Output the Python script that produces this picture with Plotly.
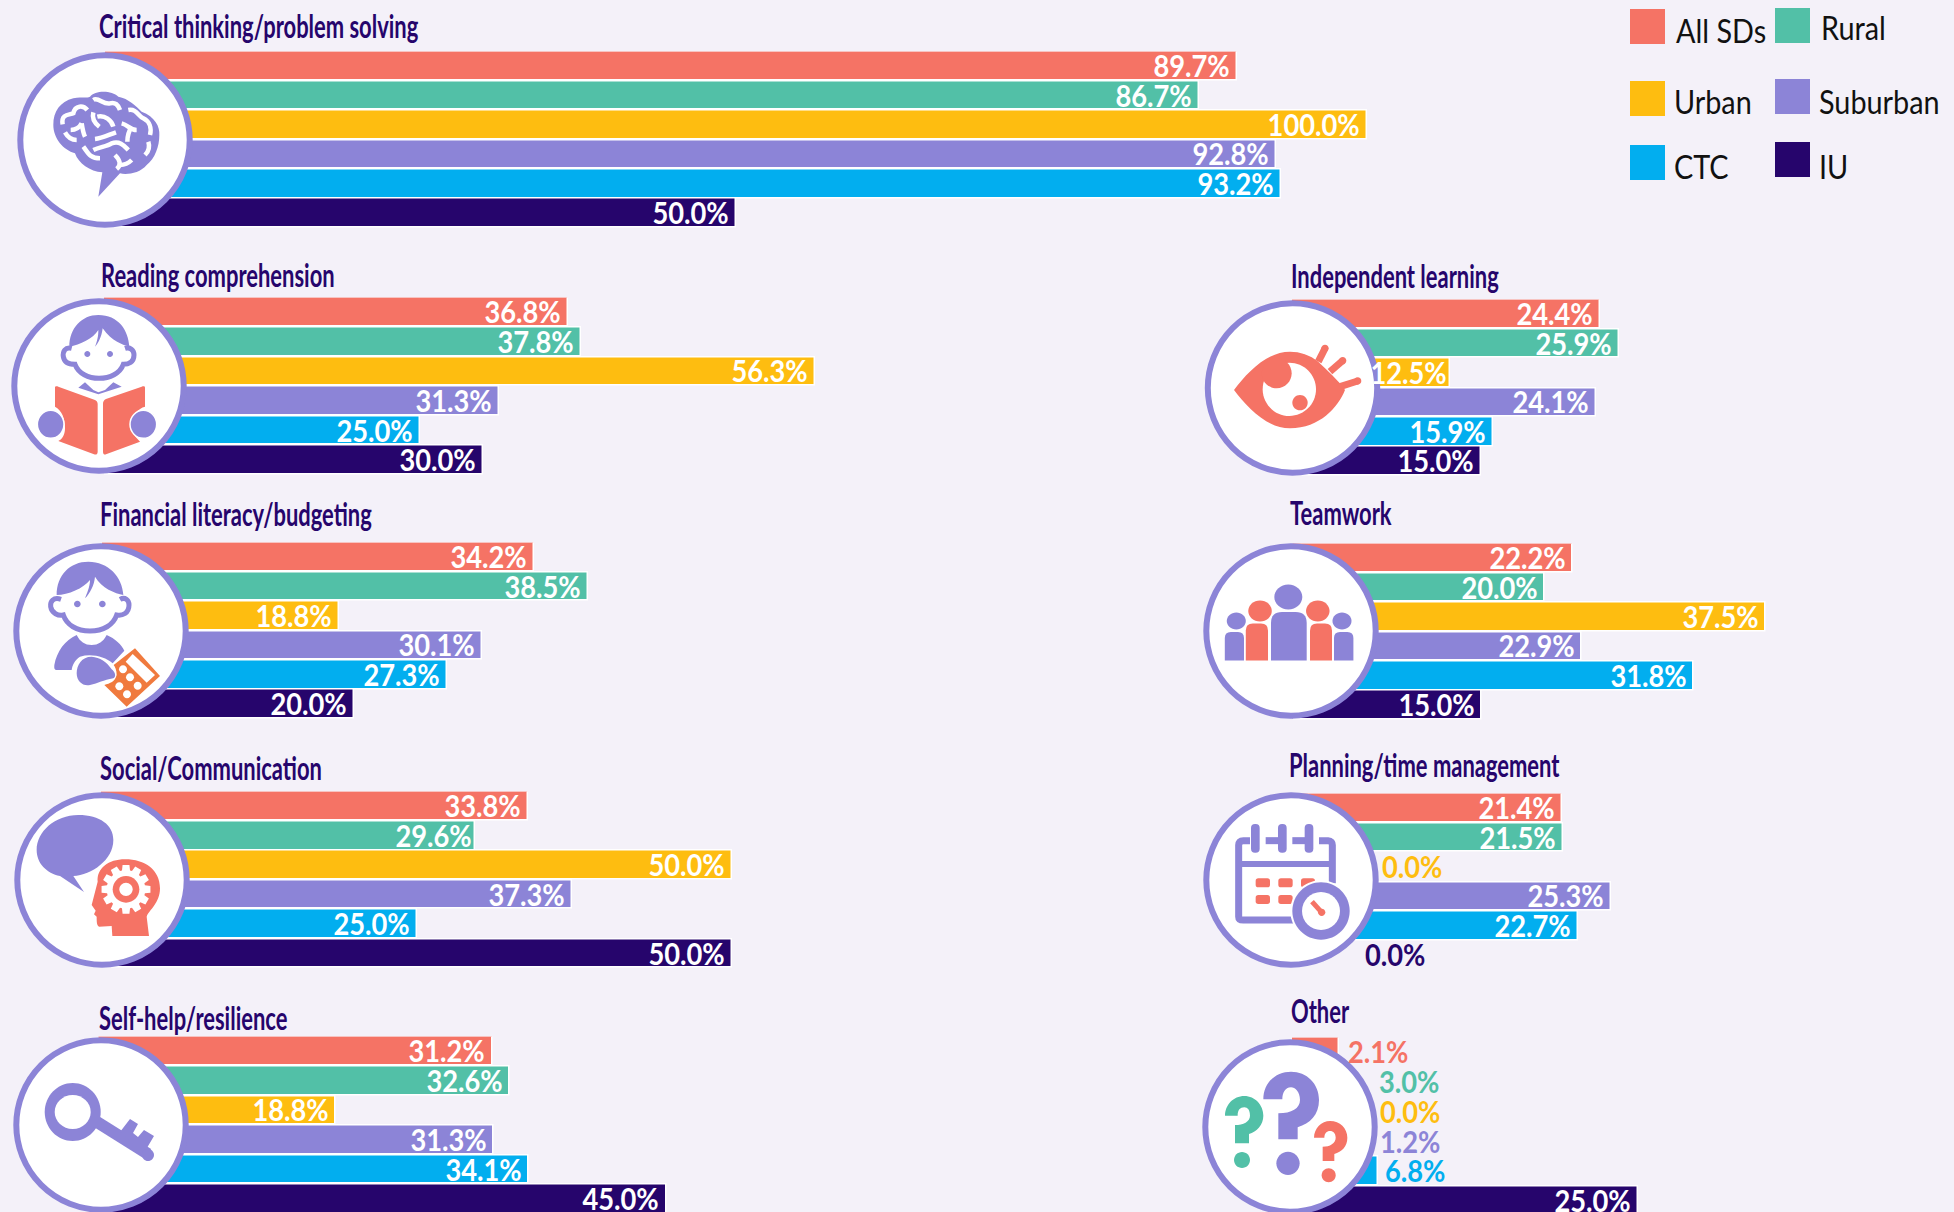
import math, re
import plotly.graph_objects as go

W, H = 1954, 1212
categories = ["Critical thinking/problem solving", "Reading comprehension", "Financial literacy/budgeting",
              "Social/Communication", "Self-help/resilience", "Independent learning", "Teamwork",
              "Planning/time management", "Other"]
series_names = ["All SDs", "Rural", "Urban", "Suburban", "CTC", "IU"]
all_sds  = [89.7, 36.8, 34.2, 33.8, 31.2, 24.4, 22.2, 21.4, 2.1]
rural    = [86.7, 37.8, 38.5, 29.6, 32.6, 25.9, 20.0, 21.5, 3.0]
urban    = [100.0, 56.3, 18.8, 50.0, 18.8, 12.5, 37.5, 0.0, 0.0]
suburban = [92.8, 31.3, 30.1, 37.3, 31.3, 24.1, 22.9, 25.3, 1.2]
ctc      = [93.2, 25.0, 27.3, 25.0, 34.1, 15.9, 31.8, 22.7, 6.8]
iu       = [50.0, 30.0, 20.0, 50.0, 45.0, 15.0, 15.0, 0.0, 25.0]
# In the reference, two bars of "Other" are drawn longer than their printed labels say.
other_drawn = {"All SDs": 3.7, "IU": 27.4}

CORAL, TEAL, YELLOW, PURPLE, BLUE, NAVY = "#F57365", "#52C0A7", "#FEBD10", "#8C84D7", "#02AEEF", "#26056C"
ORANGE = "#F07A3E"
BG = "#F4F1F9"
colors = [CORAL, TEAL, YELLOW, PURPLE, BLUE, NAVY]
series = [all_sds, rural, urban, suburban, ctc, iu]

FONT = "Lato, Roboto, sans-serif"
PX_PER_PCT = 12.62

# panel layout, in pixels
bar_x0  = [105, 104, 102, 101, 98.5, 1292, 1292.5, 1292, 1292]
bar_top = [52.7, 298.7, 543.7, 792.7, 1037.7, 300.7, 544.7, 794.7, 1038.7]
bar_bot = [226.7, 473.7, 717.7, 967.2, 1212.7, 474.7, 718.7, 968.7, 1214.7]
circle_c = [(105, 140), (99, 386), (101, 631), (102, 880), (101, 1125),
            (1292.5, 388), (1291, 631), (1291, 880), (1290, 1127)]
circle_r = 84.7
title_pos = [(99, 25), (101, 274), (99.5, 513), (99.5, 767), (98.7, 1016.6),
             (1290.6, 275), (1290, 512), (1289, 763.6), (1291, 1010)]
# labels set outside their bar: (panel, series) -> left edge in pixels
outside_left = {(7, 2): 1382, (7, 5): 1364.5, (8, 0): 1347.6, (8, 1): 1379, (8, 2): 1380, (8, 3): 1380, (8, 4): 1385}
# labels that sit tight against the end of their bar in the reference
tight_labels = {(5, 2), (3, 1)}
TITLE_SIZE, LABEL_SIZE, LEGEND_SIZE = 33, 31, 32
TITLE_SQUEEZE, LABEL_SQUEEZE, LEGEND_SQUEEZE = 0.665, 0.88, 0.9

def fx(x): return x / W
def fy(y): return 1 - y / H

def path(s, ox=0, oy=0, k=1 / 3):
    """Icon outline written in crop pixels -> paper-coordinate SVG path."""
    idx = [0]
    def rep(m):
        v = float(m.group(0))
        i = idx[0]; idx[0] += 1
        return f"{fx(ox + v * k):.5f}" if i % 2 == 0 else f"{fy(oy + v * k):.5f}"
    return re.sub(r"-?\d+\.?\d*", rep, s)

def ell(cx, cy, rx, ry=None):
    ry = rx if ry is None else ry
    c = 0.5523
    return (f"M {cx-rx} {cy} C {cx-rx} {cy-c*ry} {cx-c*rx} {cy-ry} {cx} {cy-ry} "
            f"C {cx+c*rx} {cy-ry} {cx+rx} {cy-c*ry} {cx+rx} {cy} "
            f"C {cx+rx} {cy+c*ry} {cx+c*rx} {cy+ry} {cx} {cy+ry} "
            f"C {cx-c*rx} {cy+ry} {cx-rx} {cy+c*ry} {cx-rx} {cy} Z")

shapes = []
def fill(d, color, ox=0, oy=0, k=1 / 3, line=None, lw=0):
    shapes.append(dict(type="path", xref="paper", yref="paper", path=path(d, ox, oy, k), fillcolor=color,
                       line=dict(width=lw, color=line or color), layer="above"))
def stroke(d, color, w, ox=0, oy=0, k=1 / 3):
    shapes.append(dict(type="path", xref="paper", yref="paper", path=path(d, ox, oy, k),
                       line=dict(width=w, color=color), fillcolor="rgba(0,0,0,0)", layer="above"))
def rrect(x0, y0, x1, y1, r=6):
    return (f"M {x0+r} {y0} L {x1-r} {y0} Q {x1} {y0} {x1} {y0+r} L {x1} {y1-r} Q {x1} {y1} {x1-r} {y1} "
            f"L {x0+r} {y1} Q {x0} {y1} {x0} {y1-r} L {x0} {y0+r} Q {x0} {y0} {x0+r} {y0} Z")

fig = go.Figure()
layout_axes = {}
annotations = []

for p, cat in enumerate(categories):
    vals = [s[p] for s in series]
    drawn = list(vals)
    if cat == "Other":
        for name, v in other_drawn.items():
            drawn[series_names.index(name)] = v
    suffix = "" if p == 0 else str(p + 1)
    x0, top, bot = bar_x0[p], bar_top[p], bar_bot[p]
    pitch = (bot - top + 2.4) / 6
    dom_top = top - 1.2
    dom_bot = min(bot + 1.2, H)
    fig.add_trace(go.Bar(x=drawn, y=series_names, orientation="h", width=(pitch - 0.9) / pitch, name=cat,
                         marker=dict(color=colors, line=dict(width=1.5, color="white")), showlegend=False,
                         xaxis="x" + suffix, yaxis="y" + suffix))
    layout_axes["xaxis" + suffix] = dict(domain=[fx(x0), 1], range=[0, (W - x0) / PX_PER_PCT], visible=False,
                                         anchor="y" + suffix, fixedrange=True)
    layout_axes["yaxis" + suffix] = dict(domain=[fy(dom_bot), fy(dom_top)],
                                         range=[-0.5 + (dom_bot - dom_top) / pitch, -0.5],
                                         type="category", categoryorder="array", categoryarray=series_names,
                                         visible=False, anchor="x" + suffix, fixedrange=True)
    for s, (name, v, d) in enumerate(zip(series_names, vals, drawn)):
        label = f"{v:.1f}%"
        if (p, s) in outside_left:
            annotations.append(dict(x=d, y=name, xref="x" + suffix, yref="y" + suffix, text=label, showarrow=False,
                                    xanchor="left", yanchor="middle", yshift=1,
                                    xshift=outside_left[(p, s)] - (x0 + d * PX_PER_PCT) - 2,
                                    font=dict(family=FONT, size=LABEL_SIZE, color=colors[s], weight="bold")))
        else:
            annotations.append(dict(x=d, y=name, xref="x" + suffix, yref="y" + suffix, text=label, showarrow=False,
                                    xanchor="right", yanchor="middle", xshift=-1 if (p, s) in tight_labels else -5, yshift=1,
                                    font=dict(family=FONT, size=LABEL_SIZE, color="white", weight="bold")))
    tx, ty = title_pos[p]
    annotations.append(dict(x=fx(tx), y=fy(ty), xref="paper", yref="paper", text=cat, showarrow=False, xanchor="left",
                            yanchor="middle", xshift=-2, font=dict(family=FONT, size=TITLE_SIZE, color=NAVY, weight="bold")))
    cx, cy = circle_c[p]
    shapes.append(dict(type="circle", xref="paper", yref="paper", layer="above", fillcolor="white",
                       line=dict(color=PURPLE, width=6),
                       x0=fx(cx - circle_r), x1=fx(cx + circle_r), y0=fy(cy + circle_r), y1=fy(cy - circle_r)))

# ---- icons ----
# brain
o = (40, 75)
fill("M 175 365 L 187 292 C 150 290 115 265 105 235 C 70 225 40 190 40 150 C 40 110 60 80 100 70 C 130 65 140 70 150 65 "
     "C 165 45 215 45 235 65 C 265 70 290 95 305 110 C 345 125 360 155 358 180 C 358 215 345 250 320 270 "
     "C 300 295 260 300 240 295 Z", PURPLE, *o)
for d in ["M 68 148 C 62 115 90 120 100 115 C 105 90 130 90 142 105", "M 75 172 C 85 190 100 195 110 195",
          "M 92 165 C 110 165 120 155 125 145", "M 125 145 C 128 165 130 175 135 185",
          "M 160 112 C 155 130 165 145 178 155", "M 172 125 C 195 120 215 135 220 155",
          "M 160 75 C 175 65 190 90 210 85 C 225 80 235 90 240 105", "M 165 192 C 185 190 205 180 228 172",
          "M 265 105 C 290 100 295 125 310 130 C 330 140 335 160 330 180", "M 245 145 C 265 150 270 165 290 165",
          "M 275 155 C 265 170 262 185 262 200", "M 130 215 C 145 235 150 250 180 250",
          "M 160 225 C 180 215 200 215 215 205 C 240 195 255 215 265 225", "M 225 240 C 240 255 245 270 230 282",
          "M 240 270 C 255 270 265 265 275 255", "M 325 200 C 330 215 325 230 315 240"]:
    stroke(d, "white", 4.5, *o)

# reader
o = (30, 305)
fill("M 118 125 C 118 70 155 30 205 30 C 265 30 295 75 298 125 C 280 120 245 110 218 70 C 215 95 205 115 195 125 "
     "C 205 100 205 85 205 75 C 190 100 150 120 118 125 Z", PURPLE, *o)
stroke("M 125 130 C 105 125 98 140 100 155 C 103 175 120 178 135 178 C 145 205 175 220 207 220 C 240 220 270 205 280 178 "
       "C 295 178 312 172 312 150 C 312 135 300 125 285 130", PURPLE, 5, *o)
fill(ell(172, 147, 9), PURPLE, *o); fill(ell(240, 147, 9), PURPLE, *o)
fill("M 145 248 L 165 232 L 190 255 L 205 262 L 225 255 L 250 232 L 275 245 L 205 268 Z", PURPLE, *o)
fill("M 75 248 C 75 243 80 243 85 245 L 195 285 C 200 287 203 292 203 297 L 203 440 C 203 448 198 450 192 448 L 85 408 "
     "C 95 405 105 390 105 370 C 105 340 95 315 75 305 Z", CORAL, *o)
fill("M 345 248 C 345 243 340 243 335 245 L 228 282 C 222 285 219 290 219 297 L 219 440 C 219 448 224 450 228 448 L 330 410 "
     "C 320 400 305 385 305 360 C 305 330 325 310 345 305 Z", CORAL, *o)
fill(ell(62, 358, 40, 42), PURPLE, *o, line="white", lw=1.5); fill(ell(340, 358, 40, 42), PURPLE, *o, line="white", lw=1.5)

# financial
o = (35, 550)
fill("M 65 135 C 65 75 105 35 160 35 C 220 35 262 80 265 135 C 240 130 200 115 180 80 C 178 105 165 130 150 145 "
     "C 160 120 165 105 165 90 C 145 115 100 135 65 135 Z", PURPLE, *o)
stroke("M 78 148 C 55 140 45 155 47 170 C 50 190 70 198 85 195 C 95 225 125 243 165 243 C 205 243 235 225 245 195 "
       "C 262 198 282 190 282 165 C 282 150 270 140 255 148", PURPLE, 5, *o)
fill(ell(127, 162, 10), PURPLE, *o); fill(ell(202, 162, 10), PURPLE, *o)
fill("M 125 255 C 135 275 150 285 170 285 C 190 285 205 275 215 255 C 240 265 260 285 268 302 L 233 340 "
     "C 210 320 170 310 135 320 C 120 330 112 345 110 360 L 65 360 C 58 360 57 355 58 345 C 65 305 90 270 125 255 Z", PURPLE, *o)
fill("M 170 320 C 140 320 125 345 125 370 C 125 395 145 410 165 405 C 190 400 205 390 235 385 C 245 380 240 365 230 358 "
     "C 215 335 195 322 170 320 Z", PURPLE, *o)
fill("M 300 295 L 375 378 L 275 470 L 208 405 C 225 400 240 395 245 375 C 245 360 240 350 236 345 Z", ORANGE, *o)
fill("M 293 312 L 360 375 L 335 398 L 272 335 Z", "white", *o)
for c in [(264, 358), (285, 382), (308, 407), (253, 409), (276, 433)]:
    fill(ell(c[0], c[1], 12), "white", *o)

# social: speech bubble and head with gear
o = (25, 800)
fill("M 35 150 C 35 95 90 45 160 45 C 225 45 265 75 265 120 C 265 180 200 225 145 228 L 177 276 L 105 228 "
     "C 65 220 35 190 35 150 Z", PURPLE, *o)
fill("M 218 245 C 215 205 250 178 300 178 C 360 178 405 210 405 265 C 405 310 372 330 365 350 L 372 408 L 262 408 "
     "L 260 378 L 222 380 C 215 375 215 365 215 350 L 207 343 L 212 332 L 200 315 Z", CORAL, *o)
pts = []
teeth = 12
for t in range(teeth):
    base = 2 * math.pi * t / teeth
    for da, r in [(-0.21, 58), (-0.14, 74), (0.14, 74), (0.21, 58)]:
        pts.append((303 + r * math.cos(base + da), 268 + r * math.sin(base + da)))
fill("M " + " L ".join(f"{a:.1f} {b:.1f}" for a, b in pts) + " Z", "white", *o)
fill(ell(303, 268, 40), CORAL, *o); fill(ell(303, 268, 20), "white", *o)

# key
fill(ell(72.7, 1112, 28, 29), PURPLE, k=1)
fill(ell(72.7, 1112, 18, 17), "white", k=1)
stroke("M 97 1122 L 148 1154", PURPLE, 12, k=1)
fill("M 120 1132 L 130 1119 L 138 1124 L 133 1133 L 138 1137 L 144 1130 L 154 1136 L 144 1153 Z", PURPLE, k=1)
fill(ell(148, 1155, 6), PURPLE, k=1)

# eye
o = (1210, 320)
for a, b in [((325, 125), (345, 85)), ((360, 155), (398, 122)), ((390, 200), (443, 183))]:
    stroke(f"M {a[0]} {a[1]} L {b[0]} {b[1]}", CORAL, 7, *o)
    fill(ell(b[0], b[1], 11), CORAL, *o)
fill("M 72 210 C 110 160 170 95 240 95 C 270 95 300 105 325 125 C 350 150 385 180 405 210 C 385 260 330 325 240 325 "
     "C 170 325 110 260 72 210 Z", CORAL, *o)
fill(ell(238, 208, 80), "white", *o)
fill(ell(200, 160, 45), CORAL, *o)
fill(ell(270, 248, 23), CORAL, *o)

# teamwork
for c, r, col in [((1236.3, 621), 8.5, PURPLE), ((1342, 621), 8.5, PURPLE), ((1260, 611), 10.5, CORAL),
                  ((1317.8, 611), 10.5, CORAL), ((1288.3, 597), 12.5, PURPLE)]:
    fill(ell(c[0], c[1], r * 1.12, r), col, k=1)
for x0_, x1_, y0_, col, r in [(1224.8, 1244, 632, PURPLE, 6), (1334, 1353.4, 632, PURPLE, 6), (1245.8, 1268, 623.6, CORAL, 7),
                              (1310, 1332, 623.6, CORAL, 7), (1271, 1306.7, 612, PURPLE, 11)]:
    fill(f"M {x0_} 660.5 L {x0_} {y0_+r} Q {x0_} {y0_} {x0_+r} {y0_} L {x1_-r} {y0_} Q {x1_} {y0_} {x1_} {y0_+r} L {x1_} 660.5 Z",
         col, k=1)

# calendar and clock
o = (1215, 810)
stroke("M 105 92 L 85 92 C 75 92 71 98 71 105 L 71 320 C 71 328 75 330 85 330 L 235 330", PURPLE, 7, *o)
stroke("M 312 92 L 340 92 C 348 92 352 98 352 105 L 352 220", PURPLE, 7, *o)
stroke("M 152 92 L 190 92", PURPLE, 7, *o); stroke("M 232 92 L 270 92", PURPLE, 7, *o)
for px_ in [121, 202, 282]:
    fill(rrect(px_ - 13, 42, px_ + 13, 128, 12), PURPLE, *o)
stroke("M 71 162 L 352 162", PURPLE, 6, *o)
for a, b, c_, d_ in [(122, 205, 165, 232), (190, 205, 233, 232), (258, 205, 300, 232), (122, 255, 165, 282), (190, 255, 233, 282)]:
    fill(rrect(a, b, c_, d_, 8), CORAL, *o)
fill(ell(318, 303, 92), "white", *o)
fill(ell(318, 303, 86), PURPLE, *o)
fill(ell(318, 303, 57), "white", *o)
stroke("M 291 275 L 320 307", CORAL, 5, *o)
fill(ell(320, 307, 11), CORAL, *o)

# question marks
o = (1205, 1050)
fill("M 175 148 C 175 95 215 65 258 65 C 305 65 342 100 342 150 C 342 195 315 220 278 232 L 278 268 L 220 268 L 220 190 "
     "C 260 190 285 175 285 150 C 285 125 270 112 258 112 C 240 112 232 130 232 148 Z", PURPLE, *o)
fill(ell(249, 340, 35), PURPLE, *o)
fill("M 60 197 C 60 165 85 138 118 138 C 150 138 175 165 175 197 C 175 225 155 245 132 252 L 132 280 L 90 280 L 90 225 "
     "C 115 225 135 215 135 197 C 135 180 128 172 118 172 C 105 172 98 180 98 197 Z", TEAL, *o)
fill(ell(111, 330, 24), TEAL, *o)
fill("M 327 263 C 327 235 350 213 375 213 C 405 213 427 235 427 263 C 427 290 410 305 388 312 L 388 333 L 353 333 L 353 290 "
     "C 375 290 392 280 392 263 C 392 250 385 243 375 243 C 365 243 358 250 358 263 Z", CORAL, *o)
fill(ell(371, 376, 21), CORAL, *o)

# ---- hand-placed legend ----
swatch_pos = [(1630, 9), (1775, 8), (1630, 81), (1775, 79), (1630, 145), (1775, 142)]
legend_text = [(1676, 31), (1821, 28), (1673.5, 102), (1818.5, 102), (1673.5, 167), (1818.5, 167)]
for name, col, (sx, sy), (tx, ty) in zip(series_names, colors, swatch_pos, legend_text):
    shapes.append(dict(type="rect", xref="paper", yref="paper", fillcolor=col, line=dict(width=0), layer="above",
                       x0=fx(sx), x1=fx(sx + 35), y0=fy(sy + 35), y1=fy(sy)))
    annotations.append(dict(x=fx(tx), y=fy(ty), xref="paper", yref="paper", text=name, showarrow=False, xanchor="left",
                            yanchor="middle", xshift=-2, font=dict(family=FONT, size=LEGEND_SIZE, color="#111111")))

fig.update_layout(width=W, height=H, autosize=False, margin=dict(l=0, r=0, t=0, b=0), paper_bgcolor=BG, plot_bgcolor="rgba(0,0,0,0)",
                  shapes=shapes, annotations=annotations, bargap=0, **layout_axes)

# The reference face is a condensed Futura; no condensed family is installed, so the real text is narrowed with CSS.
css = (f".annotation-text{{transform-box:fill-box;transform-origin:left center}}"
       f".annotation-text[style*='font-size: {TITLE_SIZE}px']{{transform:scaleX({TITLE_SQUEEZE})}}"
       f".annotation-text[style*='font-size: {LABEL_SIZE}px']{{transform:scaleX({LABEL_SQUEEZE})}}"
       f".annotation-text[style*='font-size: {LEGEND_SIZE}px']{{transform:scaleX({LEGEND_SQUEEZE})}}"
       f".annotation-text[style*='rgb(255, 255, 255)']{{transform-origin:right center}}")
fig.write_html("out.html", config=dict(displayModeBar=False),
               post_script=("var s=document.createElement('style');s.textContent=\"" + css + "\";document.head.appendChild(s);"
                            f"document.body.style.margin='0';document.body.style.background='{BG}';"
                            "document.documentElement.style.overflow='hidden';"))
